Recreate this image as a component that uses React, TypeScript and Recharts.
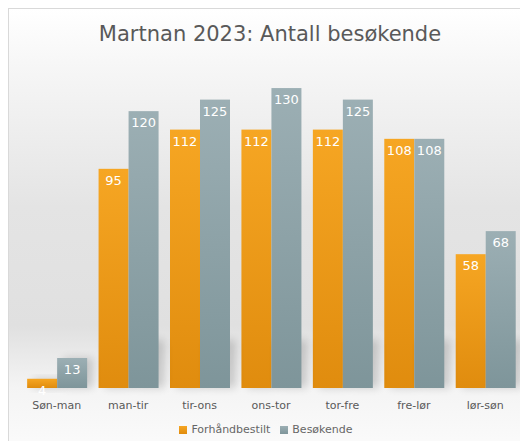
import React from 'react';
import { BarChart, Bar, XAxis, YAxis, Legend, LabelList } from 'recharts';

const categories = ['Søn-man', 'man-tir', 'tir-ons', 'ons-tor', 'tor-fre', 'fre-lør', 'lør-søn'];
const forhandbestilt = [4, 95, 112, 112, 112, 108, 58];
const besokende = [13, 120, 125, 130, 125, 108, 68];
const seriesOrder = ['Forhåndbestilt', 'Besøkende'];

const data = categories.map((c, i) => ({ name: c, Forhåndbestilt: forhandbestilt[i], Besøkende: besokende[i] }));

const FONT = '"DejaVu Sans", Verdana, sans-serif';

const ShadowBar = (props: any) => {
  const { x, y, width, height, fill } = props;
  if (width == null || height == null) return null;
  const base = y + height;
  const shTop = Math.max(y, base - 48);
  return (
    <g>
      <rect x={x + 6} y={shTop} width={width} height={base - shTop} fill="#000" opacity={0.16} filter="url(#shblur)" />
      <rect x={x} y={y} width={width} height={height} fill={fill} />
    </g>
  );
};

export default function App() {
  return (
    <div
      style={{
        position: 'relative',
        width: 530,
        height: 440,
        border: '1px solid #d9d9d9',
        background: 'linear-gradient(to bottom, #ffffff 0%, #f5f5f5 15%, #e4e4e4 45%, #e0e0e0 72%, #f4f4f4 86%, #fbfbfb 100%)',
        fontFamily: FONT,
      }}
    >
      <div
        style={{
          position: 'absolute',
          top: 13,
          left: 0,
          width: 522,
          textAlign: 'center',
          fontSize: 21,
          color: '#595959',
          fontFamily: FONT,
        }}
      >
        Martnan 2023: Antall besøkende
      </div>
      <BarChart
        width={525}
        height={430}
        data={data}
        margin={{ top: 56, right: 13, left: 12, bottom: 0 }}
        barCategoryGap="8.6%"
        barGap={0}
      >
        <defs>
          <linearGradient id="gOrange" x1="0" y1="0" x2="0" y2="1">
            <stop offset="0%" stopColor="#F6A623" />
            <stop offset="100%" stopColor="#E08C0E" />
          </linearGradient>
          <linearGradient id="gGray" x1="0" y1="0" x2="0" y2="1">
            <stop offset="0%" stopColor="#9CAFB4" />
            <stop offset="100%" stopColor="#7E959A" />
          </linearGradient>
          <filter id="shblur" x="-50%" y="-50%" width="200%" height="200%">
            <feGaussianBlur stdDeviation="4" />
          </filter>
        </defs>
        <XAxis
          dataKey="name"
          axisLine={false}
          tickLine={false}
          height={30}
          tick={{ fill: '#595959', fontSize: 11, fontFamily: FONT }}
          tickMargin={7}
        />
        <YAxis hide domain={[0, 140]} />
        <Legend
          verticalAlign="bottom"
          iconType="square"
          iconSize={8}
          height={21}
          itemSorter={(item: any) => seriesOrder.indexOf(item.dataKey ?? item.value)}
          wrapperStyle={{ fontSize: 11, fontFamily: FONT, color: '#666666', bottom: -5 }}
          formatter={(v: string) => <span style={{ color: '#666666' }}>{v}</span>}
        />
        <Bar dataKey="Forhåndbestilt" fill="url(#gOrange)" legendType="square" isAnimationActive={false} shape={ShadowBar}>
          <LabelList dataKey="Forhåndbestilt" position="insideTop" offset={7} fill="#ffffff" fontSize={13} fontFamily={FONT} />
        </Bar>
        <Bar dataKey="Besøkende" fill="url(#gGray)" legendType="square" isAnimationActive={false} shape={ShadowBar}>
          <LabelList dataKey="Besøkende" position="insideTop" offset={7} fill="#ffffff" fontSize={13} fontFamily={FONT} />
        </Bar>
      </BarChart>
    </div>
  );
}
